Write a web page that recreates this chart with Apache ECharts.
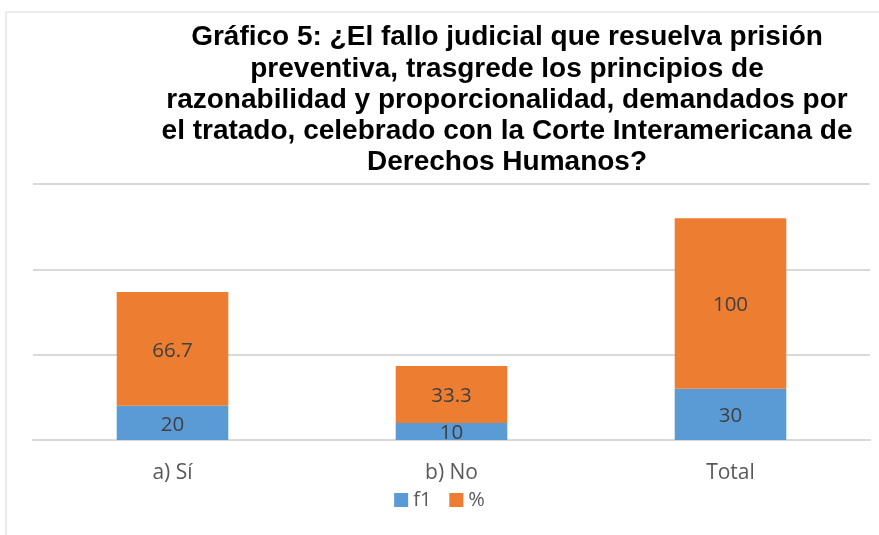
<!DOCTYPE html>
<html><head><meta charset="utf-8">
<script src="https://cdn.jsdelivr.net/npm/echarts@6/dist/echarts.min.js"></script>
<style>html,body{margin:0;padding:0;background:#fff}#c{width:879px;height:535px}</style>
</head><body><div id="c"></div>
<script>
const categories = ['a) Sí', 'b) No', 'Total'];
const f1 = [20, 10, 30];
const pct = [66.7, 33.3, 100];
const yTicks = [0, 50, 100, 150];

const chart = echarts.init(document.getElementById('c'));
const lbl = {show: true, position: 'inside', color: '#404040', fontSize: 20.5, fontFamily: 'Open Sans', offset: [0, 2]};
chart.setOption({
  animation: false,
  graphic: [{type: 'rect', shape: {x: 6, y: 12, width: 900, height: 600}, style: {fill: 'none', stroke: '#d9d9d9', lineWidth: 1}}],
  title: {
    text: 'Gráfico 5: ¿El fallo judicial que resuelva prisión\npreventiva, trasgrede los principios de\nrazonabilidad y proporcionalidad, demandados por\nel tratado, celebrado con la Corte Interamericana de\nDerechos Humanos?',
    left: 502, top: 17, textAlign: 'center',
    textStyle: {fontFamily: 'Liberation Sans', fontWeight: 'bold', fontSize: 28, lineHeight: 31.25, color: '#000', align: 'center'}
  },
  legend: {
    data: ['f1', '%'], top: 485, left: 'center', itemWidth: 14, itemHeight: 14, itemGap: 18,
    icon: 'rect',
    textStyle: {fontFamily: 'Open Sans', fontSize: 20, color: '#595959'}
  },
  grid: {left: 33, right: 9, top: 184, bottom: 95},
  xAxis: {
    type: 'category', data: categories,
    axisLine: {lineStyle: {color: '#d9d9d9', width: 2}}, axisTick: {show: false},
    axisLabel: {color: '#595959', fontSize: 21, fontFamily: 'Open Sans', margin: 23}
  },
  yAxis: {
    type: 'value', min: yTicks[0], max: yTicks[yTicks.length - 1], interval: 50,
    axisLabel: {show: false}, axisLine: {show: false}, axisTick: {show: false},
    splitLine: {lineStyle: {color: '#d9d9d9', width: 2}}
  },
  series: [
    {name: 'f1', type: 'bar', stack: 's', data: f1, barWidth: '40%', itemStyle: {color: '#5b9bd5'}, label: lbl},
    {name: '%', type: 'bar', stack: 's', data: pct, barWidth: '40%', itemStyle: {color: '#ed7d31'}, label: lbl}
  ]
});
</script></body></html>
